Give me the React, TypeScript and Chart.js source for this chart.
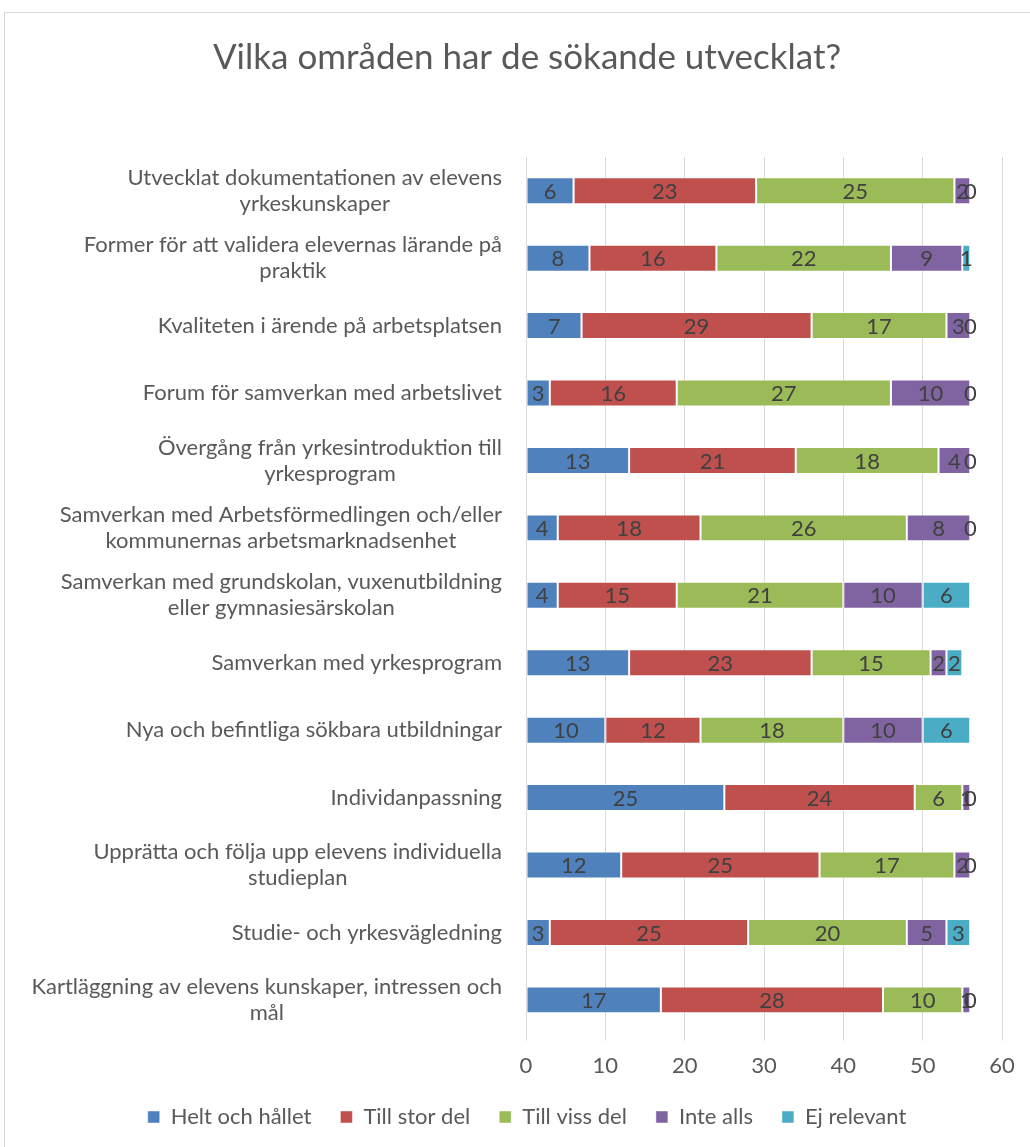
import React, { useEffect, useRef } from "react";
import { Chart, registerables } from "chart.js";

Chart.register(...registerables);

const categories: string[][] = [
  ["Utvecklat dokumentationen av elevens", "yrkeskunskaper"],
  ["Former för att validera elevernas lärande på", "praktik"],
  ["Kvaliteten i ärende på arbetsplatsen"],
  ["Forum för samverkan med arbetslivet"],
  ["Övergång från yrkesintroduktion till", "yrkesprogram"],
  ["Samverkan med Arbetsförmedlingen och/eller", "kommunernas arbetsmarknadsenhet"],
  ["Samverkan med grundskolan, vuxenutbildning", "eller gymnasiesärskolan"],
  ["Samverkan med yrkesprogram"],
  ["Nya och befintliga sökbara utbildningar"],
  ["Individanpassning"],
  ["Upprätta och följa upp elevens individuella", "studieplan"],
  ["Studie- och yrkesvägledning"],
  ["Kartläggning av elevens kunskaper, intressen och", "mål"],
];

const heltOchHallet = [6, 8, 7, 3, 13, 4, 4, 13, 10, 25, 12, 3, 17];
const tillStorDel = [23, 16, 29, 16, 21, 18, 15, 23, 12, 24, 25, 25, 28];
const tillVissDel = [25, 22, 17, 27, 18, 26, 21, 15, 18, 6, 17, 20, 10];
const inteAlls = [2, 9, 3, 10, 4, 8, 10, 2, 10, 1, 2, 5, 1];
const ejRelevant = [0, 1, 0, 0, 0, 0, 6, 2, 6, 0, 0, 3, 0];

const seriesNames = ["Helt och hållet", "Till stor del", "Till viss del", "Inte alls", "Ej relevant"];
const seriesColors = ["#4F81BD", "#C0504D", "#9BBB59", "#8064A2", "#4BACC6"];
const xTicks = [0, 10, 20, 30, 40, 50, 60];

const FONT = "Lato, 'Open Sans', sans-serif";

const yLabelPlugin = {
  id: "yLabels",
  afterDraw(chart: any) {
    const ctx = chart.ctx;
    const yScale = chart.scales.y;
    const rightX = chart.chartArea.left - 24;
    const lh = 26;
    ctx.save();
    ctx.font = `22px ${FONT}`;
    ctx.fillStyle = "#595959";
    ctx.textAlign = "center";
    ctx.textBaseline = "middle";
    categories.forEach((lines, i) => {
      const y = yScale.getPixelForTick(i);
      const widest = Math.max(...lines.map((l) => ctx.measureText(l).width));
      const cx = rightX - widest / 2;
      const y0 = y - ((lines.length - 1) * lh) / 2;
      lines.forEach((l, j) => ctx.fillText(l, cx, y0 + j * lh));
    });
    ctx.restore();
  },
};

const dataLabelPlugin = {
  id: "dataLabels",
  afterDatasetsDraw(chart: any) {
    const ctx = chart.ctx;
    ctx.save();
    ctx.font = `22px ${FONT}`;
    ctx.fillStyle = "#404040";
    ctx.textAlign = "center";
    ctx.textBaseline = "middle";
    chart.data.datasets.forEach((ds: any, di: number) => {
      const meta = chart.getDatasetMeta(di);
      meta.data.forEach((el: any, i: number) => {
        const v = ds.data[i];
        const cx = (el.x + el.base) / 2;
        ctx.fillText(String(v), cx, el.y + 1);
      });
    });
    ctx.restore();
  },
};

export default function App() {
  const ref = useRef<HTMLCanvasElement | null>(null);

  useEffect(() => {
    if (!ref.current) return;
    const seriesValues = [heltOchHallet, tillStorDel, tillVissDel, inteAlls, ejRelevant];
    const chart = new Chart(ref.current, {
      type: "bar",
      data: {
        labels: categories.map((l) => l.join(" ")),
        datasets: seriesNames.map((name, i) => ({
          label: name,
          data: seriesValues[i],
          backgroundColor: seriesColors[i],
          borderColor: "rgba(255,255,255,0.45)",
          borderWidth: 1,
          borderSkipped: false,
          categoryPercentage: 0.8,
          barPercentage: 0.5,
        })),
      },
      options: {
        indexAxis: "y",
        animation: false,
        responsive: true,
        maintainAspectRatio: false,
        layout: { padding: { left: 0, right: 0, top: 0, bottom: 15 } },
        scales: {
          x: {
            stacked: true,
            min: 0,
            max: 60,
            afterBuildTicks: (scale: any) => {
              scale.ticks = xTicks.map((v) => ({ value: v }));
            },
            afterFit: (scale: any) => {
              scale.height = scale.height - 14;
            },
            grid: { color: "#d9d9d9", lineWidth: 1, tickLength: 7 },
            border: { display: false },
            ticks: {
              color: "#595959",
              font: { family: FONT, size: 22 },
              padding: 12,
            },
          },
          y: {
            stacked: true,
            grid: { display: false },
            border: { display: true, color: "#d9d9d9", width: 1 },
            ticks: { display: false },
            afterFit: (scale: any) => {
              scale.width = 521;
            },
          },
          yRight: {
            type: "category",
            position: "right",
            grid: { display: false },
            border: { display: false },
            ticks: { display: false },
            afterFit: (scale: any) => {
              scale.width = 47;
            },
          },
        },
        plugins: {
          title: {
            display: true,
            text: "Vilka områden har de sökande utvecklat?",
            color: "#595959",
            font: { family: FONT, size: 35, weight: "normal" },
            padding: { top: 24, bottom: 78 },
          },
          legend: {
            position: "bottom",
            labels: {
              color: "#595959",
              font: { family: FONT, size: 22 },
              boxWidth: 12,
              boxHeight: 12,
              padding: 29,
            },
          },
          tooltip: { enabled: false },
        },
      },
      plugins: [yLabelPlugin, dataLabelPlugin],
    });
    return () => chart.destroy();
  }, []);

  return (
    <div
      style={{
        position: "fixed",
        left: 0,
        top: 0,
        width: 1030,
        height: 1147,
        overflow: "hidden",
        background: "#ffffff",
      }}
    >
      <div
        style={{
          position: "absolute",
          left: 4,
          top: 12,
          width: 1044,
          height: 1140,
          border: "1px solid #d9d9d9",
        }}
      >
        <canvas ref={ref} />
      </div>
    </div>
  );
}
